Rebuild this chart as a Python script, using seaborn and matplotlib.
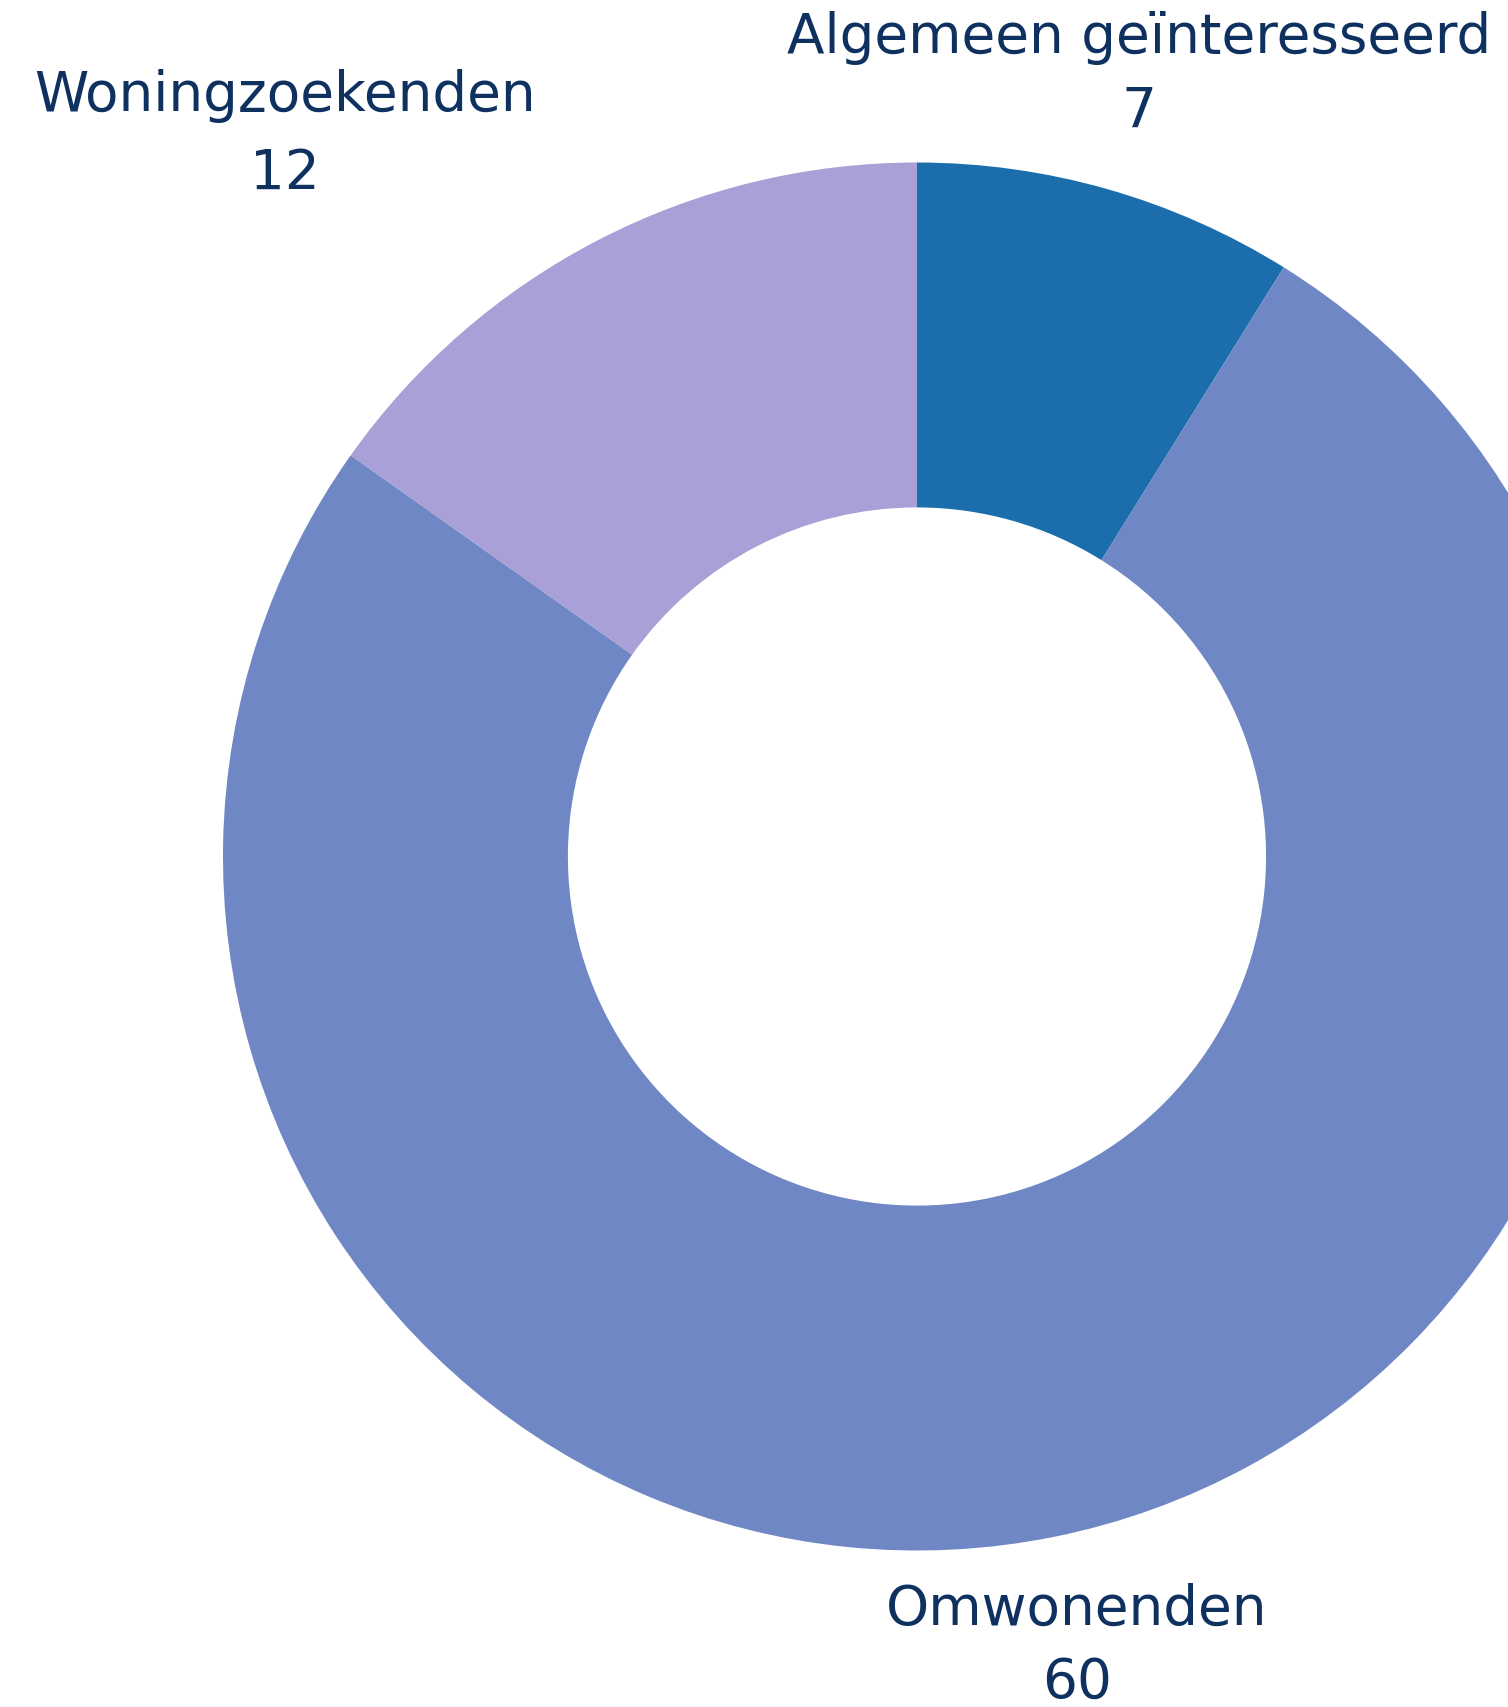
import matplotlib
matplotlib.use("Agg")
import matplotlib.pyplot as plt
import seaborn as sns

## Data
categories = ["Algemeen geïnteresseerd", "Omwonenden", "Woningzoekenden"]
counts = [7, 60, 12]
colors = ["#1b6dab", "#6f87c4", "#a8a0d6"]

sns.set_theme(style="white")
plt.rcParams['font.family'] = ['DejaVu Sans']
text_color = "#0e3160"

fig = plt.figure(figsize=(15.08, 17.08), dpi=100)
ax = fig.add_axes([0, 0, 1, 1])

wedges, _ = ax.pie(counts, colors=colors, startangle=90, counterclock=False,
                   radius=1, wedgeprops={"width": 0.497, "linewidth": 0})

# donut is partly cut off on the right
ax.set_xlim(-1.3213, 0.8516)
ax.set_ylim(-1.2255, 1.2356)
ax.set_aspect("equal")
ax.axis("off")

# label positions (x, name y, value y)
label_pos = {
    "Algemeen geïnteresseerd": (0.320, 1.181, 1.074),
    "Omwonenden": (0.2305, -1.084, -1.189),
    "Woningzoekenden": (-0.911, 1.097, 0.985),
}
for cat, n in zip(categories, counts):
    x, y1, y2 = label_pos[cat]
    ax.text(x, y1, cat, ha="center", va="center", fontsize=39.5, color=text_color, clip_on=False)
    ax.text(x, y2, str(n), ha="center", va="center", fontsize=39.5, color=text_color, clip_on=False)

fig.savefig("out.png", dpi=100)
